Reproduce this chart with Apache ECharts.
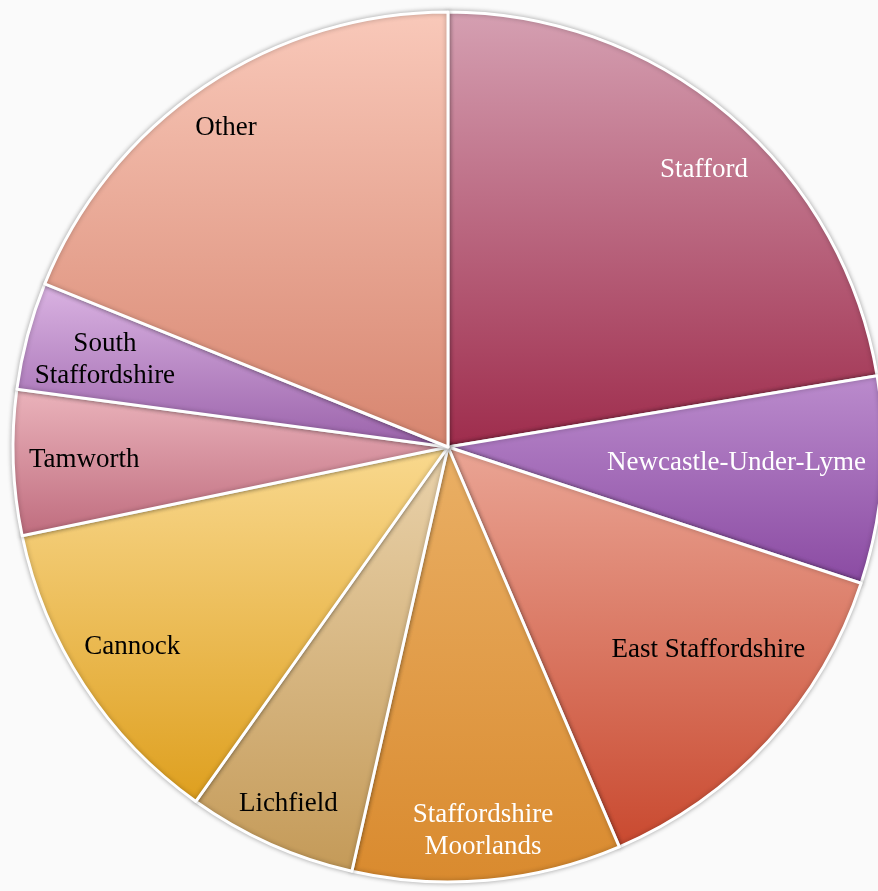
<!DOCTYPE html>
<html>
<head>
<meta charset="utf-8">
<script src="https://cdn.jsdelivr.net/npm/echarts@6/dist/echarts.min.js"></script>
<style>
html,body{margin:0;padding:0;background:#fafafa;}
#chart{width:878px;height:891px;}
</style>
</head>
<body>
<div id="chart"></div>
<script>
// Data
const categories = ["Stafford","Newcastle-Under-Lyme","East Staffordshire","Staffordshire\nMoorlands","Lichfield","Cannock","Tamworth","South\nStaffordshire","Other"];
const values = [22.4, 7.7, 13.5, 10.0, 6.3, 11.9, 5.4, 4.0, 18.9];

// Styles
const topColors    = ["#d5a0b2","#bb8ccd","#eaa595","#eab066","#ead3ac","#f9d98f","#ebb4bc","#dbb4e3","#f9c9ba"];
const bottomColors = ["#9e2c4c","#8a4aa2","#c9492f","#d98a2e","#c49a58","#de9f1e","#bf6c7e","#9a62aa","#d7856f"];
const labelColors  = ["#ffffff","#ffffff","#000000","#ffffff","#000000","#000000","#000000","#000000","#000000"];
const labelRadius  = [377, 289, 330, 386, 391, 374, 364, 354, 389];
const labelTurn    = [2.5, -1.2, -4.6, 0, 0, 0.8, 0, -0.6, -0.8]; // degrees, clockwise

const CX = 448, CY = 447, R = 435;

const chart = echarts.init(document.getElementById('chart'));
const data = categories.map((c, i) => ({
  name: c,
  value: values[i],
  itemStyle: {
    color: {type:'linear', x:0, y:0, x2:0, y2:1,
      colorStops:[{offset:0, color: topColors[i]}, {offset:1, color: bottomColors[i]}]}
  },
  label: { color: labelColors[i] }
}));

chart.setOption({
  backgroundColor: '#fafafa',
  animation: false,
  series: [{
    type: 'pie',
    center: [CX, CY],
    radius: [0, R],
    startAngle: 90,
    clockwise: true,
    avoidLabelOverlap: false,
    itemStyle: {
      borderColor: '#ffffff',
      borderWidth: 3,
      shadowBlur: 5,
      shadowColor: 'rgba(0,0,0,0.3)'
    },
    label: {
      show: true,
      position: 'inside',
      fontFamily: 'Liberation Serif',
      fontSize: 27,
      lineHeight: 32,
      align: 'center'
    },
    labelLine: { show: false },
    labelLayout: function (p) {
      const lx = p.labelRect.x + p.labelRect.width / 2;
      const ly = p.labelRect.y + p.labelRect.height / 2;
      const a = Math.atan2(ly - CY, lx - CX) + labelTurn[p.dataIndex] * Math.PI / 180;
      const r = labelRadius[p.dataIndex];
      return { x: CX + r * Math.cos(a), y: CY + r * Math.sin(a) };
    },
    data: data
  }]
});
</script>
</body>
</html>
